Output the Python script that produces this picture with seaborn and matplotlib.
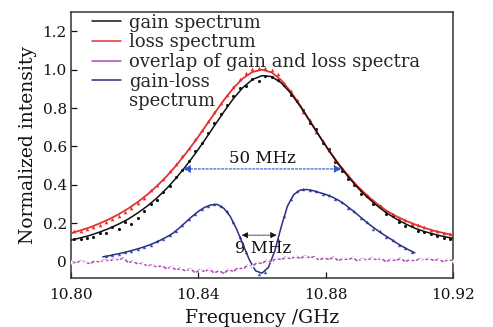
import numpy as np
import pandas as pd
import matplotlib
matplotlib.use("Agg")
import matplotlib.pyplot as plt
import seaborn as sns
from matplotlib.lines import Line2D

sns.set_theme(style="ticks")
plt.rcParams['font.family'] = ['DejaVu Serif']
plt.rcParams['mathtext.fontset'] = 'dejavuserif'

# ---------------- data ----------------
# fitted curves, sampled every 3 MHz from 10.800 to 10.920 GHz
fit_freq = np.linspace(10.800, 10.920, 41)
gain_fit = [0.112, 0.124, 0.137, 0.154, 0.173, 0.196, 0.222, 0.254, 0.290, 0.332,
            0.380, 0.435, 0.496, 0.562, 0.633, 0.707, 0.780, 0.849, 0.907, 0.949,
            0.969, 0.964, 0.932, 0.878, 0.809, 0.732, 0.654, 0.578, 0.507, 0.443,
            0.386, 0.336, 0.293, 0.255, 0.224, 0.197, 0.174, 0.157, 0.143, 0.131,
            0.121]
loss_fit = [0.148, 0.163, 0.179, 0.199, 0.221, 0.247, 0.277, 0.311, 0.350, 0.394,
            0.444, 0.500, 0.562, 0.628, 0.699, 0.771, 0.841, 0.904, 0.955, 0.988,
            1.000, 0.986, 0.946, 0.886, 0.813, 0.734, 0.655, 0.580, 0.511, 0.449,
            0.393, 0.345, 0.303, 0.266, 0.238, 0.214, 0.194, 0.176, 0.161, 0.149,
            0.138]

# measured points, every 2 MHz from 10.801 to 10.919 GHz
meas_freq = np.linspace(10.801, 10.919, 60)
gain_meas = [0.118, 0.120, 0.121, 0.128, 0.148, 0.150, 0.178, 0.172, 0.205, 0.198,
             0.225, 0.262, 0.298, 0.320, 0.365, 0.392, 0.440, 0.478, 0.525, 0.575,
             0.620, 0.672, 0.720, 0.770, 0.815, 0.862, 0.905, 0.915, 0.952, 0.940,
             0.968, 0.962, 0.948, 0.920, 0.870, 0.838, 0.790, 0.722, 0.690, 0.618,
             0.585, 0.520, 0.470, 0.430, 0.398, 0.350, 0.340, 0.300, 0.292, 0.250,
             0.236, 0.205, 0.185, 0.188, 0.160, 0.152, 0.142, 0.136, 0.122, 0.118]
loss_meas = [0.160, 0.158, 0.170, 0.178, 0.192, 0.208, 0.222, 0.240, 0.258, 0.280,
             0.305, 0.330, 0.372, 0.398, 0.430, 0.470, 0.510, 0.548, 0.592, 0.640,
             0.688, 0.735, 0.780, 0.828, 0.870, 0.912, 0.950, 0.985, 1.005, 1.010,
             1.008, 1.000, 0.975, 0.930, 0.888, 0.840, 0.780, 0.736, 0.675, 0.628,
             0.582, 0.530, 0.488, 0.452, 0.410, 0.372, 0.346, 0.315, 0.292, 0.262,
             0.250, 0.226, 0.216, 0.198, 0.190, 0.178, 0.166, 0.160, 0.150, 0.146]

# gain-loss spectrum fit, every 2 MHz from 10.810 to 10.908 GHz
gl_fit_freq = np.linspace(10.810, 10.908, 50)
gl_fit = [0.025, 0.031, 0.038, 0.045, 0.053, 0.062, 0.072, 0.083, 0.096, 0.111,
          0.128, 0.148, 0.175, 0.205, 0.235, 0.262, 0.283, 0.296, 0.298, 0.278,
          0.236, 0.170, 0.090, 0.010, -0.048, -0.060, -0.030, 0.055, 0.180, 0.290,
          0.350, 0.373, 0.376, 0.370, 0.360, 0.350, 0.337, 0.320, 0.298, 0.272,
          0.245, 0.217, 0.190, 0.166, 0.143, 0.122, 0.100, 0.080, 0.062, 0.046]
# gain-loss measured points, every 2 MHz from 10.811 to 10.907 GHz
gl_meas_freq = np.linspace(10.811, 10.907, 49)
gl_meas = [0.030, 0.036, 0.040, 0.050, 0.058, 0.066, 0.078, 0.088, 0.105, 0.118,
           0.140, 0.160, 0.190, 0.222, 0.250, 0.275, 0.292, 0.300, 0.292, 0.262,
           0.205, 0.128, 0.048, -0.022, -0.062, -0.052, 0.005, 0.118, 0.240, 0.328,
           0.368, 0.378, 0.372, 0.368, 0.352, 0.346, 0.326, 0.312, 0.282, 0.262,
           0.228, 0.205, 0.170, 0.158, 0.128, 0.112, 0.088, 0.072, 0.052]

# overlap of gain and loss spectra, every 1.5 MHz from 10.800 to 10.920 GHz
ov_freq = np.linspace(10.800, 10.920, 81)
overlap = [0.000, -0.008, 0.004, -0.002, -0.012, 0.006, -0.004, 0.010, 0.002, 0.014,
           0.008, 0.020, -0.006, 0.004, -0.014, -0.008, -0.024, -0.016, -0.030, -0.020,
           -0.038, -0.026, -0.044, -0.034, -0.050, -0.036, -0.058, -0.042, -0.052, -0.038,
           -0.060, -0.046, -0.062, -0.040, -0.052, -0.030, -0.040, -0.018, -0.024, -0.004,
           -0.010, 0.008, 0.000, 0.018, 0.010, 0.024, 0.014, 0.028, 0.016, 0.030,
           0.020, 0.026, 0.006, 0.022, 0.010, 0.024, 0.004, 0.018, 0.008, 0.022,
           0.002, 0.016, 0.006, 0.020, 0.008, 0.018, -0.002, 0.014, 0.004, 0.018,
           0.000, 0.012, 0.002, 0.016, 0.006, 0.018, 0.004, 0.014, -0.002, 0.012,
           0.004]

labels = ["gain spectrum", "loss spectrum", "overlap of gain and loss spectra",
          "gain-loss", "spectrum"]
xticks = [10.80, 10.84, 10.88, 10.92]
xticklabels = ["10.80", "10.84", "10.88", "10.92"]
yticks = [0, 0.2, 0.4, 0.6, 0.8, 1.0, 1.2]
yticklabels = ["0", "0.2", "0.4", "0.6", "0.8", "1.0", "1.2"]

# ---------------- colours ----------------
c_black = "#111111"
c_red = "#e4312f"
c_purple = "#b048bc"
c_navy = "#2c2f80"
c_blue = "#3856c8"
c_arrow = "#2a56c6"

fig = plt.figure(figsize=(4.93, 3.27), dpi=100)
ax = fig.add_axes([0.144, 0.150, 0.775, 0.813])

# measured dots
sns.scatterplot(x=meas_freq, y=gain_meas, ax=ax, color=c_black, s=5, marker="o",
                linewidth=0, legend=False, zorder=3)
sns.scatterplot(x=meas_freq, y=loss_meas, ax=ax, color=c_red, s=7, marker="^",
                linewidth=0, legend=False, zorder=3)
sns.scatterplot(x=gl_meas_freq, y=gl_meas, ax=ax, color=c_blue, s=6, marker="^",
                linewidth=0, legend=False, zorder=3)

# fitted lines
sns.lineplot(x=fit_freq, y=loss_fit, ax=ax, color=c_red, lw=1.3, zorder=4)
sns.lineplot(x=fit_freq, y=gain_fit, ax=ax, color=c_black, lw=1.1, zorder=4)
sns.lineplot(x=gl_fit_freq, y=gl_fit, ax=ax, color=c_navy, lw=1.1, zorder=4)
sns.lineplot(x=ov_freq, y=overlap, ax=ax, color=c_purple, lw=1.2, marker="+",
             markersize=3.5, markeredgewidth=0.9, zorder=4)

# 50 MHz annotation
ax.annotate("", xy=(10.8352, 0.483), xytext=(10.885, 0.483),
            arrowprops=dict(arrowstyle="<|-|>", color=c_arrow, lw=0.8, ls=(0, (2, 1.5)),
                            mutation_scale=11, shrinkA=0, shrinkB=0), zorder=5)
ax.text(10.8600, 0.535, "50 MHz", ha="center", va="center", fontsize=12, color="#111111")

# 9 MHz annotation
ax.annotate("", xy=(10.8536, 0.138), xytext=(10.8646, 0.138),
            arrowprops=dict(arrowstyle="<|-|>", color="#111111", lw=0.6, ls=(0, (1, 1)),
                            mutation_scale=9, shrinkA=0, shrinkB=0), zorder=5)
ax.text(10.8602, 0.070, "9 MHz", ha="center", va="center", fontsize=12, color="#111111")

ax.set_xlim(10.80, 10.92)
ax.set_ylim(-0.085, 1.30)
ax.set_xticks(xticks)
ax.set_xticklabels(xticklabels)
ax.set_yticks(yticks)
ax.set_yticklabels(yticklabels)
ax.tick_params(direction="in", length=4, width=0.9, labelsize=11, colors="#111111")
ax.tick_params(axis="x", pad=7)
ax.tick_params(axis="y", pad=3)
for sp in ax.spines.values():
    sp.set_visible(True)
    sp.set_linewidth(1.1)
    sp.set_color("#333333")

ax.set_xlabel("Frequency /GHz", fontsize=13.5, labelpad=5, color="#111111")
ax.set_ylabel("Normalized intensity", fontsize=13.5, labelpad=4, color="#111111")

handles = [Line2D([], [], color=c_black, lw=1.1),
           Line2D([], [], color=c_red, lw=1.1),
           Line2D([], [], color=c_purple, lw=1.1),
           Line2D([], [], color=c_navy, lw=1.1),
           Line2D([], [], color="none", lw=1.1)]
ax.legend(handles, labels, loc="upper left", bbox_to_anchor=(0.055, 0.994), frameon=False,
          fontsize=13, handlelength=1.6, handletextpad=0.45, labelspacing=0.09,
          borderaxespad=0.0, borderpad=0.0)

fig.savefig("out.png", dpi=100)
